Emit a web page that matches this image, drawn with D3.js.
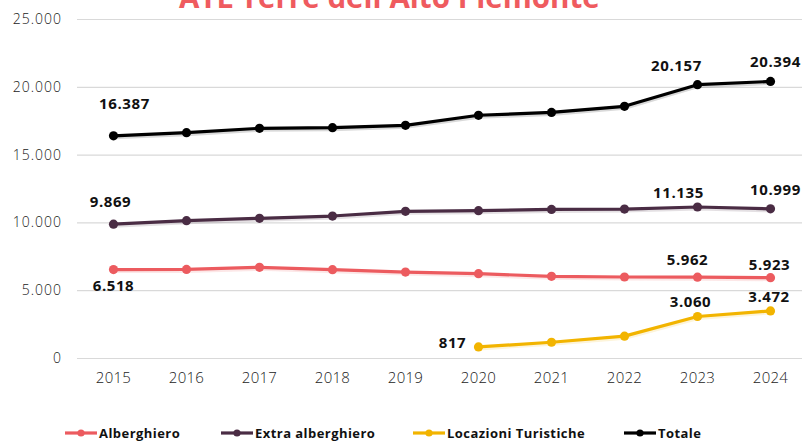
<!DOCTYPE html>
<html>
<head>
<meta charset="utf-8">
<script src="https://cdn.jsdelivr.net/npm/d3@7"></script>
<style>
  html, body { margin: 0; padding: 0; background: #fff; }
  svg { display: block; }
</style>
</head>
<body>
<svg id="chart" width="802" height="441"></svg>
<script>
// ---- data ----
const years = ["2015","2016","2017","2018","2019","2020","2021","2022","2023","2024"];
const alberghiero = [6518, 6530, 6690, 6510, 6340, 6220, 6020, 5975, 5962, 5923];
const extraAlberghiero = [9869, 10125, 10300, 10470, 10820, 10865, 10960, 10985, 11135, 10999];
const locazioniTuristiche = [null, null, null, null, null, 817, 1160, 1610, 3060, 3472];
const totale = [16387, 16615, 16940, 16985, 17160, 17900, 18110, 18560, 20157, 20394];
const yTicks = [0, 5000, 10000, 15000, 20000, 25000];
const seriesNames = ["Alberghiero", "Extra alberghiero", "Locazioni Turistiche", "Totale"];
const titleText = "ATL Terre dell'Alto Piemonte";

// which points carry a value label (index into years)
const labelIdx = [[0, 8, 9], [0, 8, 9], [5, 8, 9], [0, 8, 9]];

// ---- styling / layout (not data) ----
const colors = ["#EC5B5F", "#4A2C44", "#F2B400", "#000000"];
const labelOffsets = [
  [[0, 21], [-10, -12], [-1, -8]],
  [[-3, -17], [-19, -9], [5, -14]],
  [[-26, 1], [-7, -10], [-1.5, -9]],
  [[11, -27], [-21, -14], [5, -14]]
];
const legendX = [65, 221, 413, 624];

const svg = d3.select("#chart");
const W = 802, H = 441;
const x = d3.scaleBand().domain(years).range([77, 807]);
const y = d3.scaleLinear().domain([0, 25000]).range([358, 19]);
const loc = d3.formatLocale({decimal: ",", thousands: ".", grouping: [3], currency: ["", "€"]});
const fmt = loc.format(",d");
const cx = d => x(d) + x.bandwidth() / 2;

// title
const title = svg.append("text")
  .attr("x", 179).attr("y", 8)
  .attr("font-family", "Open Sans, sans-serif")
  .attr("font-weight", 700)
  .attr("font-size", 28)
  .attr("fill", "#EF5B5F")
  .text(titleText);
const tw = title.node().getComputedTextLength();
title.attr("font-size", 28 * 421 / tw);

// gridlines + y labels
const yAxis = d3.axisLeft(y).tickValues(yTicks).tickSize(-(W - 77)).tickFormat(fmt).tickPadding(15);
const gy = svg.append("g").attr("transform", "translate(77,0)").call(yAxis);
gy.select(".domain").remove();
gy.selectAll(".tick line").attr("stroke", "#d9d9d9").attr("stroke-width", 1.2);
gy.selectAll(".tick text")
  .attr("font-family", "Open Sans, sans-serif").attr("font-weight", 300)
  .attr("font-size", 14).attr("letter-spacing", "1px").attr("fill", "#222");

// x axis labels
const xAxis = d3.axisBottom(x).tickSize(0).tickPadding(14);
const gx = svg.append("g").attr("transform", "translate(0,358)").call(xAxis);
gx.select(".domain").remove();
gx.selectAll(".tick text")
  .attr("font-family", "Open Sans, sans-serif").attr("font-weight", 300)
  .attr("font-size", 15).attr("letter-spacing", "0.3px").attr("fill", "#222");

// series
const allSeries = [alberghiero, extraAlberghiero, locazioniTuristiche, totale];
const line = d3.line().defined(d => d.v != null).x(d => cx(d.year)).y(d => y(d.v));

allSeries.forEach((vals, si) => {
  const pts = years.map((yr, i) => ({year: yr, v: vals[i]}));
  const g = svg.append("g");
  // soft shadow
  g.append("path").datum(pts).attr("d", line)
    .attr("fill", "none").attr("stroke", colors[si]).attr("stroke-opacity", 0.15)
    .attr("stroke-width", 4).attr("transform", "translate(0.5,1.5)");
  g.append("path").datum(pts).attr("d", line)
    .attr("fill", "none").attr("stroke", colors[si]).attr("stroke-width", 3.2)
    .attr("stroke-linejoin", "round");
  g.selectAll("circle").data(pts.filter(d => d.v != null)).join("circle")
    .attr("cx", d => cx(d.year)).attr("cy", d => y(d.v)).attr("r", 4.6)
    .attr("fill", colors[si]);
  labelIdx[si].forEach((idx, k) => {
    const [dx, dy] = labelOffsets[si][k];
    svg.append("text")
      .attr("x", cx(years[idx]) + dx).attr("y", y(vals[idx]) + dy)
      .attr("text-anchor", "middle")
      .attr("font-family", "Open Sans, sans-serif").attr("font-weight", 700)
      .attr("font-size", 15).attr("letter-spacing", "0.6px").attr("fill", "#111")
      .text(fmt(vals[idx]));
  });
});

// legend
const lg = svg.append("g");
seriesNames.forEach((name, i) => {
  const g = lg.append("g").attr("transform", `translate(${legendX[i]},433)`);
  g.append("line").attr("x1", 0).attr("x2", 32).attr("y1", 0).attr("y2", 0)
    .attr("stroke", colors[i]).attr("stroke-width", 3.2);
  g.append("circle").attr("cx", 16).attr("cy", 0).attr("r", 3.6).attr("fill", colors[i]);
  g.append("text").attr("x", 34).attr("y", 0).attr("dy", "0.35em")
    .attr("font-family", "Open Sans, sans-serif").attr("font-weight", 700)
    .attr("font-size", 13).attr("letter-spacing", "0.45px").attr("fill", "#111")
    .text(name);
});
</script>
</body>
</html>
